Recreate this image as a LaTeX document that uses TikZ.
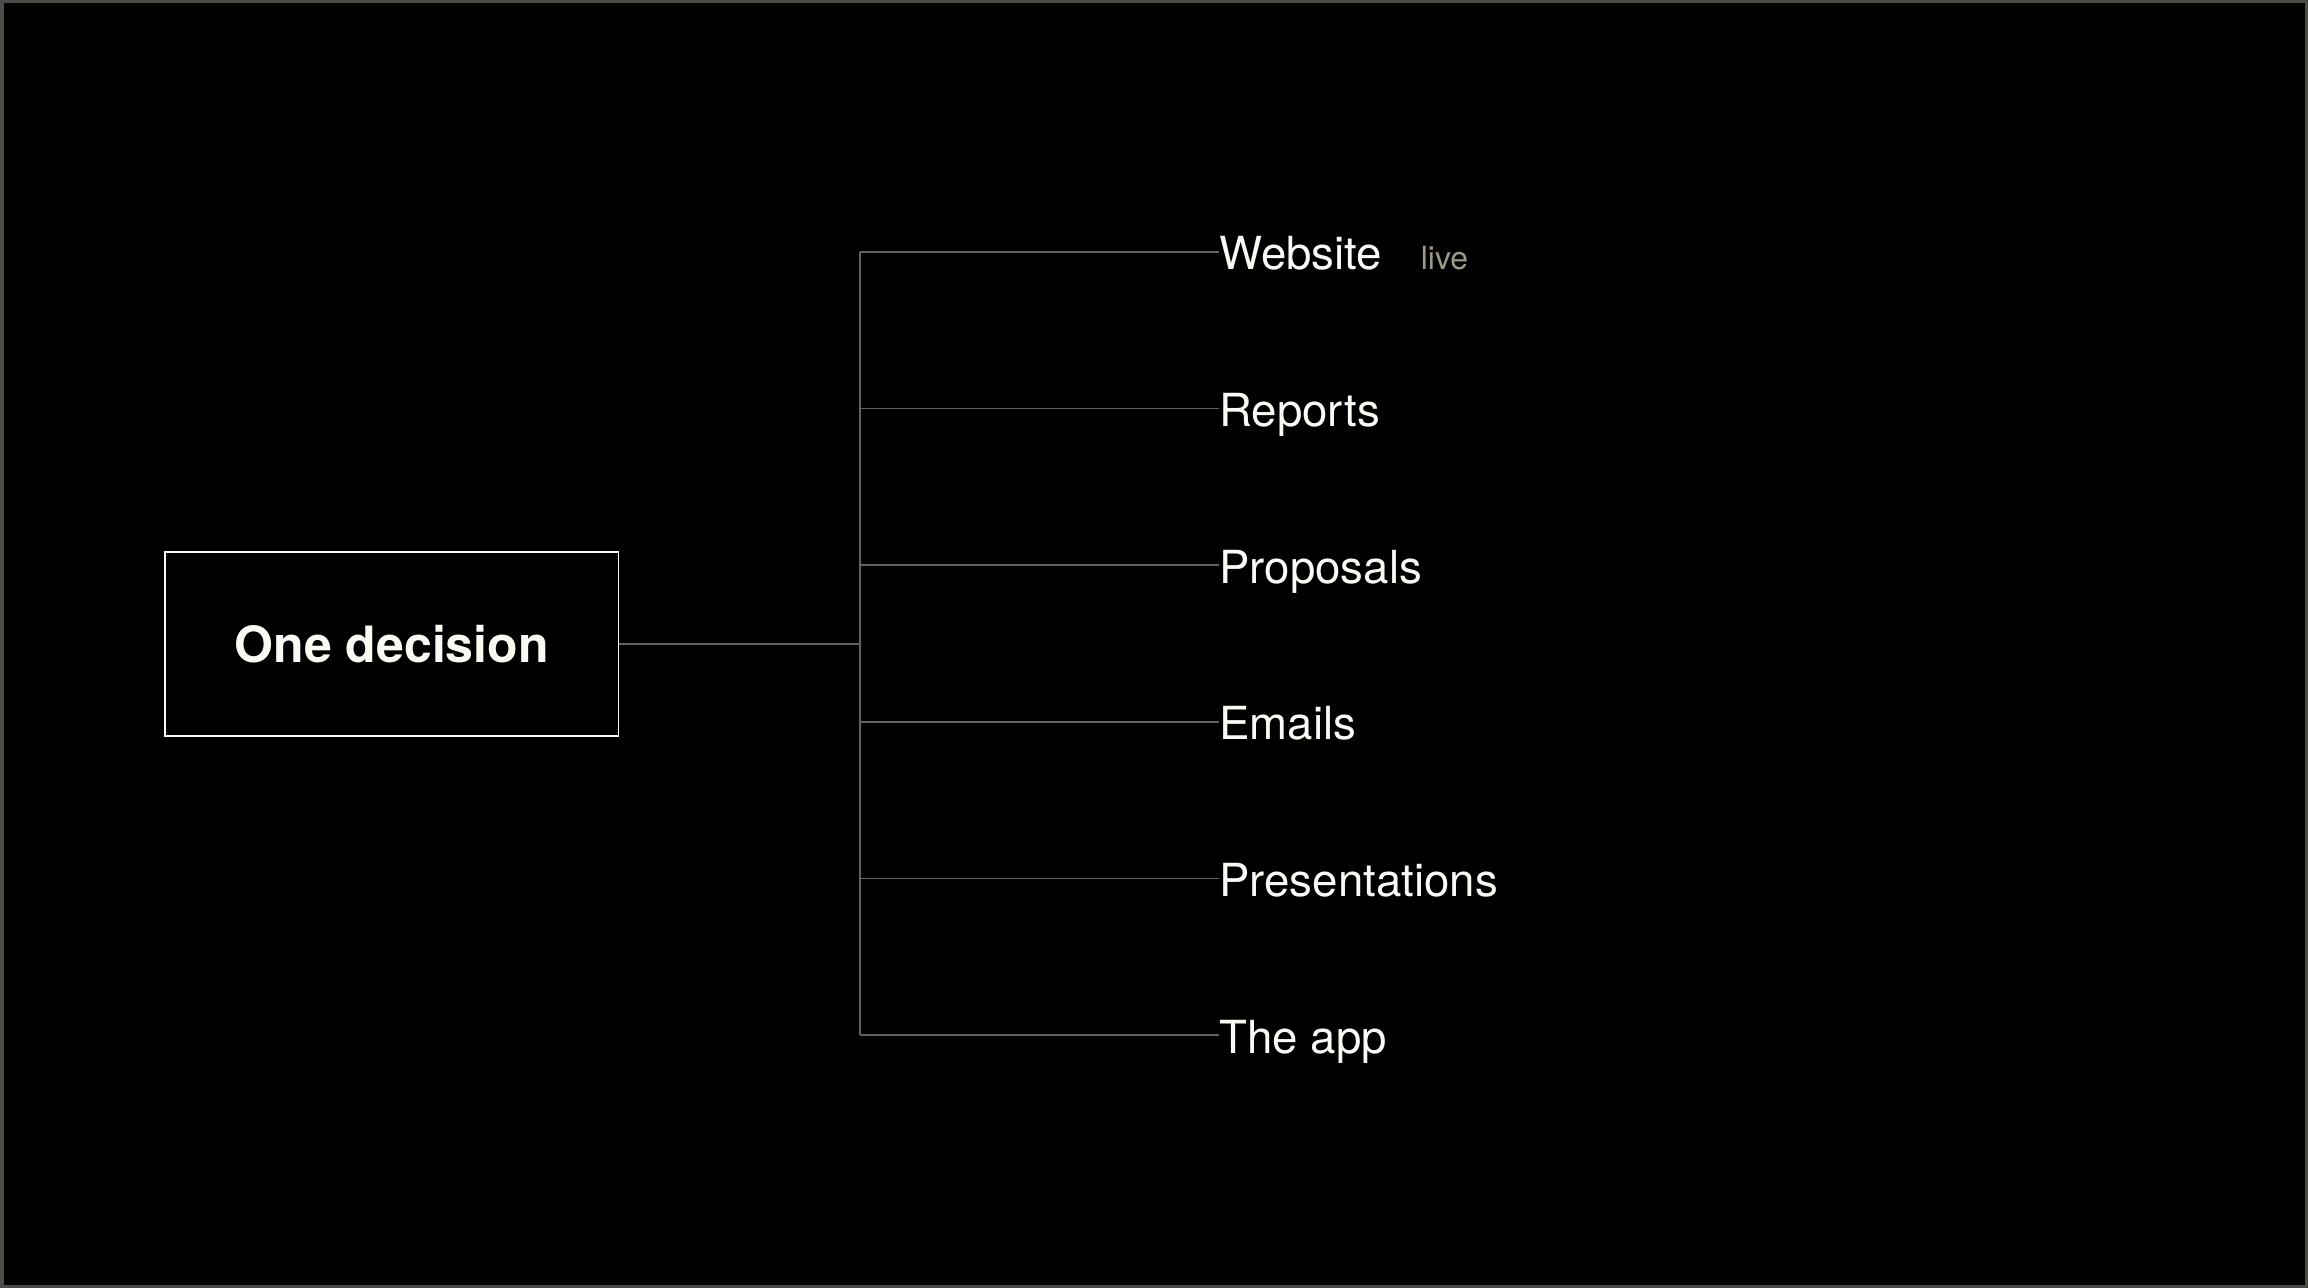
\documentclass[tikz,border=0pt]{standalone}
\usepackage{fontspec}
\setmainfont{TeX Gyre Heros}
\usetikzlibrary{positioning}

\definecolor{framegray}{HTML}{4D4C49}
\definecolor{linkgray}{HTML}{626262}
\definecolor{offwhite}{HTML}{FBF9F4}
\definecolor{livegray}{HTML}{9D978C}

\tikzset{
  item/.style={anchor=west, inner sep=0pt, text height=18pt, text depth=0pt,
    text=offwhite, font=\fontsize{22.8}{27}\selectfont},
  link/.style={draw=linkgray, line width=0.7pt},
}

\begin{document}
\begin{tikzpicture}[x=0.5pt,y=-0.5pt]
    % Parameters
    \def\trunkX{860}
    \def\leafX{1219}
    \def\topY{252}
    \def\gap{156.6}

    % Background and frame
    \useasboundingbox (0,0) rectangle (2308,1288);
    \fill[black] (0,0) rectangle (2308,1288);
    \draw[framegray, line width=1.75pt] (1.75,1.75) rectangle (2306.25,1286.25);

    % Root box
    \node[draw=offwhite, line width=0.75pt, inner sep=0pt,
      minimum width=226.75pt, minimum height=92pt, text=offwhite,
      font=\bfseries\fontsize{25}{30}\selectfont] (decision) at (391.75,644) {One decision};

    % Outputs
    \node[item] (website) at (\leafX,\topY) {Website};
    \node[item] (reports) at (\leafX,\topY+\gap) {Reports};
    \node[item] (proposals) at (\leafX,\topY+2*\gap) {Proposals};
    \node[item] (emails) at (\leafX,\topY+3*\gap) {Emails};
    \node[item] (presentations) at (\leafX,\topY+4*\gap) {Presentations};
    \node[item] (app) at (\leafX,\topY+5*\gap) {The app};

    % Status tag
    \node[anchor=base west, inner sep=0pt, text=livegray,
      font=\fontsize{16}{19}\selectfont] (live) at ([xshift=19pt]website.base east) {live};

    % Trunk
    \coordinate (fork) at (\trunkX,644);
    \coordinate (trunktop) at (\trunkX,\topY);
    \coordinate (trunkbottom) at (\trunkX,\topY+5*\gap);
    \draw[link] (decision.east) -- (fork);
    \draw[link] (trunktop) -- (trunkbottom);

    % Branches
    \draw[link] (trunktop) -- (website.west);
    \draw[link] (trunktop |- reports.west) -- (reports.west);
    \draw[link] (trunktop |- proposals.west) -- (proposals.west);
    \draw[link] (trunktop |- emails.west) -- (emails.west);
    \draw[link] (trunktop |- presentations.west) -- (presentations.west);
    \draw[link] (trunkbottom) -- (app.west);
\end{tikzpicture}
\end{document}
